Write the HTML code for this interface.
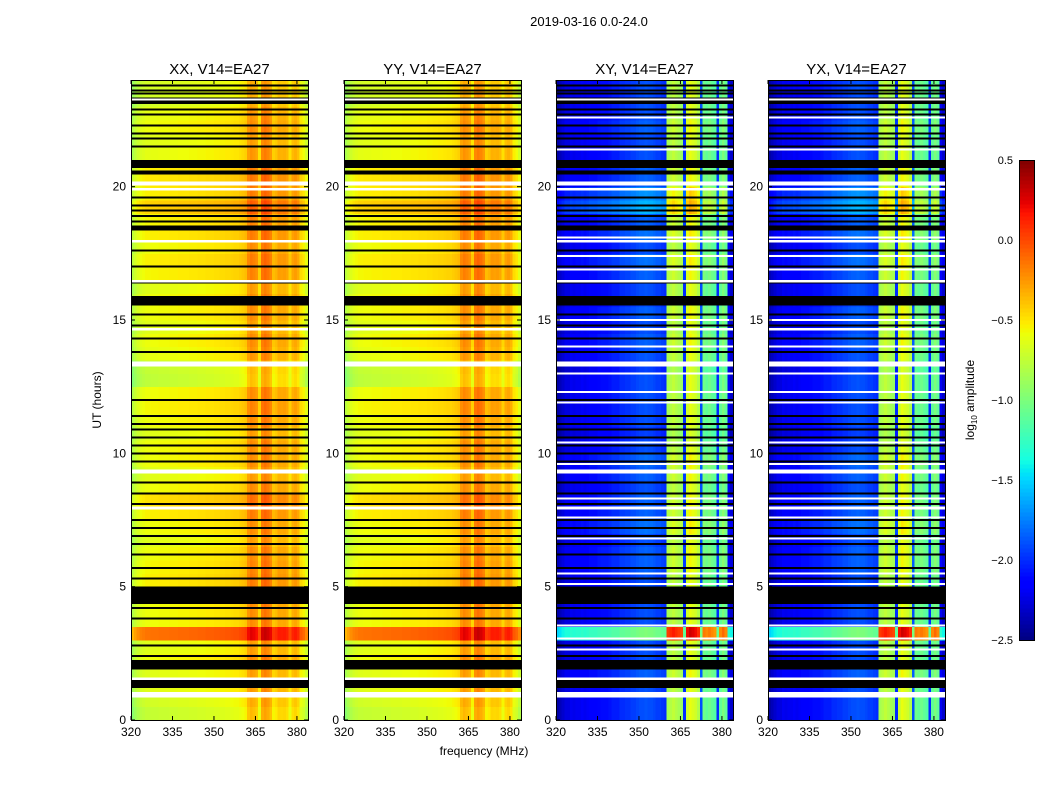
<!DOCTYPE html>
<html><head><meta charset="utf-8"><style>
body{margin:0;background:#fff;}
svg{display:block;font-family:"Liberation Sans",sans-serif;}
</style></head><body>
<svg id="fig" width="1050" height="800" viewBox="0 0 1050 800">
<text x="589" y="26" font-size="13" text-anchor="middle">2019-03-16 0.0-24.0</text>
<text x="484" y="755" font-size="12" text-anchor="middle">frequency (MHz)</text>
<text transform="translate(101,400) rotate(-90)" font-size="12" text-anchor="middle">UT (hours)</text>
<text transform="translate(974,400) rotate(-90)" font-size="12" text-anchor="middle">log<tspan font-size="8" dy="3">10</tspan><tspan dy="-3"> amplitude</tspan></text>
</svg>
<script>
// ---- data ----
const panelTitles = ["XX, V14=EA27","YY, V14=EA27","XY, V14=EA27","YX, V14=EA27"];
const xTicks = [320,335,350,365,380];
const yTicks = [0,5,10,15,20];
const cbTicks = [0.5,0.0,-0.5,-1.0,-1.5,-2.0,-2.5];
// column profile, 1 MHz bins from 320 to 384 (64 bins)
const parColProfile = [-0.85,-0.78,-0.72,-0.68,-0.66,-0.64,-0.64,-0.63,-0.63,-0.63,-0.62,-0.62,-0.62,-0.62,-0.61,-0.61,-0.61,-0.6,-0.6,-0.6,-0.6,-0.59,-0.59,-0.59,-0.58,-0.58,-0.58,-0.57,-0.57,-0.57,-0.56,-0.56,-0.55,-0.55,-0.54,-0.54,-0.53,-0.52,-0.52,-0.5,-0.48,-0.45,-0.3,-0.25,-0.28,-0.32,-0.5,-0.22,-0.18,-0.22,-0.28,-0.45,-0.42,-0.35,-0.36,-0.35,-0.38,-0.5,-0.38,-0.35,-0.4,-0.55,-0.6,-0.7];
const crossColProfile = [-2.4,-2.35,-2.3,-2.25,-2.25,-2.2,-2.22,-2.2,-2.2,-2.18,-2.2,-2.18,-2.15,-2.15,-2.15,-2.12,-2.1,-2.1,-2.1,-2.08,-2.05,-2.05,-2.05,-2.0,-2.0,-1.98,-1.98,-1.95,-1.95,-1.92,-1.9,-1.9,-1.88,-1.9,-1.9,-1.92,-1.95,-1.95,-1.98,-2.0,-0.85,-0.8,-0.75,-0.8,-0.85,-0.9,-2.0,-0.7,-0.6,-0.65,-0.7,-0.8,-1.9,-1.05,-1.1,-1.05,-1.1,-1.15,-2.0,-1.1,-1.0,-1.1,-2.2,-2.3];
// row offsets, half-hour bins 0..24 (48 rows)
const parRowOffset = [-0.1,-0.05,0,0,0.05,0,0.5,0.05,0.05,0.05,0.1,0.08,0.05,0,0.05,0.1,0.15,0.05,0,0.05,0.05,0,0.05,0.08,0.05,-0.12,-0.1,0.02,0.05,0.0,0.05,0.05,0,0.08,0.1,0.05,0.1,0.08,0.2,0.1,0.12,0.1,0.02,0,0.05,0.02,-0.05,-0.05];
const crossRowOffset = [0,0,0,0.05,0,0,0.9,0,0,0,0,0.05,0.05,0,0.1,0.05,0.05,0,0.05,0.08,0,-0.05,0,0,0,0,-0.05,0.02,0.05,0,0.05,0,0,0.05,0.1,0,0.1,0.05,0.3,0.2,0.05,0.05,0,0,0.05,0,0,0];
const blackBands = [[1.2,1.5],[1.9,2.25],[4.35,5.0],[15.55,15.9],[18.35,18.55],[20.45,20.6],[20.7,21.0],[23.1,23.35]];
const thinLines = [2.4,2.8,3.8,4.2,5.3,5.7,6.2,6.6,6.9,7.2,7.5,8.1,8.5,8.9,9.7,10.0,10.3,10.6,10.9,11.1,11.4,12.0,13.8,14.3,14.8,15.2,16.4,17.0,17.6,18.7,18.9,19.1,19.3,19.6,21.5,21.8,22.0,22.3,22.7,22.9,23.5,23.6,23.8];
const whiteBands = [[0.85,1.05],[1.5,1.6],[7.9,8.0],[9.25,9.4],[13.25,13.45],[14.6,14.7],[16.4,16.5],[17.9,18.0],[19.85,19.95],[20.05,20.2],[23.25,23.3]];
const crossWhiteLines = [2.65,3.05,3.55,5.1,5.5,6.8,7.6,8.3,9.6,10.4,11.9,12.3,13.0,14.0,15.0,16.9,17.4,18.1,21.4,22.6];
// ---- layout ----
const panelX = [131,344,556,768], PW = 177, PT = 80, PB = 720;
const fMin = 320, fMax = 384, hMin = 0, hMax = 24;
const NS = "http://www.w3.org/2000/svg";
const svg = document.getElementById("fig");
function xs(p, f){ return panelX[p] + (f - fMin) / (fMax - fMin) * PW; }
function ys(h){ return PB - (h - hMin) / (hMax - hMin) * (PB - PT); }
const JR = [[0,0],[0.35,0],[0.66,1],[0.89,1],[1,0.5]];
const JG = [[0,0],[0.125,0],[0.375,1],[0.64,1],[0.91,0],[1,0]];
const JB = [[0,0.5],[0.11,1],[0.34,1],[0.65,0],[1,0]];
function seg(s, t){
  for (let i = 1; i < s.length; i++) if (t <= s[i][0]){
    const a = s[i-1], b = s[i]; return a[1] + (b[1]-a[1])*(t-a[0])/(b[0]-a[0]);
  }
  return s[s.length-1][1];
}
function jet(v){
  let t = (v + 2.5) / 3; t = Math.max(0, Math.min(1, t));
  const c = x => Math.round(255 * x);
  return `rgb(${c(seg(JR,t))},${c(seg(JG,t))},${c(seg(JB,t))})`;
}
function mk(tag, attrs, parent){
  const e = document.createElementNS(NS, tag);
  for (const k in attrs) e.setAttribute(k, attrs[k]);
  (parent || svg).appendChild(e); return e;
}
const nC = parColProfile.length, nR = parRowOffset.length;
for (let p = 0; p < 4; p++){
  const g = mk("g", {"shape-rendering":"crispEdges"});
  
  
  const cols = p < 2 ? parColProfile : crossColProfile;
  const rows = p < 2 ? parRowOffset : crossRowOffset;
  const fStep = (fMax - fMin) / nC, hStep = (hMax - hMin) / nR;
  for (let r = 0; r < nR; r++){
    for (let c = 0; c < nC; c++){
      const x0 = xs(p, fMin + c*fStep), x1 = xs(p, fMin + (c+1)*fStep);
      const y1 = ys(r*hStep), y0 = ys((r+1)*hStep);
      const rc = mk("rect", {x:x0, y:y0, width:x1-x0+0.5, height:y1-y0+0.5, fill: jet(cols[c] + rows[r])}, g);
      
      
    }
  }
  for (const b of blackBands){
    const rc = mk("rect", {x:panelX[p], y:ys(b[1]), width:PW, height:ys(b[0])-ys(b[1]), fill:"#000"}, g);
    
    
  }
  for (const h of thinLines){
    const rc = mk("rect", {x:panelX[p], y:ys(h)-1, width:PW, height:2, fill:"#000"}, g);
    
    
  }
  const wl = p < 2 ? whiteBands : whiteBands.concat(crossWhiteLines.map(h => [h-0.04, h+0.04]));
  for (const b of wl){
    const rc = mk("rect", {x:panelX[p], y:ys(b[1]), width:PW, height:Math.max(2, ys(b[0])-ys(b[1])), fill:"#fff"}, g);
    
    
  }
  const fr = mk("rect", {x:panelX[p]+0.5, y:PT+0.5, width:PW, height:PB-PT, fill:"none", stroke:"#000"});
  
  
  const tt = mk("text", {x:panelX[p]+PW/2, y:PT-6, "font-size":15, "text-anchor":"middle"});
  tt.textContent = panelTitles[p];
  
  
  for (const f of xTicks){
    const x = xs(p, f);
    mk("line", {x1:x, x2:x, y1:PB, y2:PB-4, stroke:"#000"});
    mk("line", {x1:x, x2:x, y1:PT, y2:PT+4, stroke:"#000"});
    const t = mk("text", {x:x, y:PB+16, "font-size":12, "text-anchor":"middle"});
    t.textContent = f;
    
    
  }
  for (const h of yTicks){
    const y = ys(h);
    mk("line", {x1:panelX[p], x2:panelX[p]+4, y1:y, y2:y, stroke:"#000"});
    mk("line", {x1:panelX[p]+PW, x2:panelX[p]+PW-4, y1:y, y2:y, stroke:"#000"});
    const t = mk("text", {x:panelX[p]-5, y:y+4, "font-size":12, "text-anchor":"end"});
    t.textContent = h;
    
    
  }
}
// colorbar
const cbX = 1019, cbW = 15, cbT = 160, cbB = 640, cbMin = -2.5, cbMax = 0.5;
const cb = mk("g", {"shape-rendering":"crispEdges"});


for (let i = 0; i < 120; i++){
  const v0 = cbMin + (cbMax-cbMin)*i/120;
  const yb = cbB - (cbB-cbT)*i/120, yt = cbB - (cbB-cbT)*(i+1)/120;
  mk("rect", {x:cbX, y:yt, width:cbW, height:yb-yt+0.5, fill:jet(v0 + 0.0125)}, cb);
}
mk("rect", {x:cbX+0.5, y:cbT+0.5, width:cbW, height:cbB-cbT, fill:"none", stroke:"#000"}, cb);
for (const v of cbTicks){
  const y = cbB - (v - cbMin)/(cbMax-cbMin)*(cbB-cbT);
  const t = mk("text", {x:1013, y:y+4, "font-size":11, "text-anchor":"end"});
  t.textContent = (v < 0 ? "\u2212" : "") + Math.abs(v).toFixed(1);
  
  
}
</script>
</body></html>
